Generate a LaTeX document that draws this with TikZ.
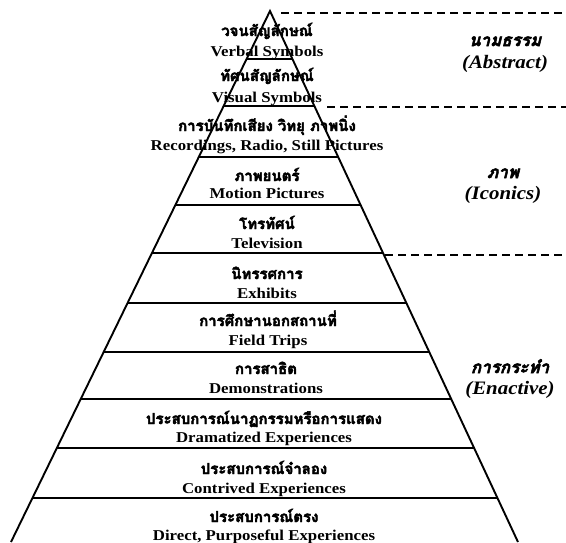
\documentclass[tikz,border=0pt]{standalone}
\usepackage{fontspec}
\setmainfont{Liberation Serif}
\newfontfamily\enfont{Liberation Serif Bold}
\newfontfamily\enslant{Liberation Serif Bold Italic}
\newfontfamily\thaifont[Script=Thai, BoldFeatures={FakeBold=3}]{Loma}
\newfontfamily\thaislant[Script=Thai, FakeSlant=0.25, BoldFeatures={FakeBold=3}]{Loma}
\usetikzlibrary{calc}
% widen a line of text horizontally
\newcommand\stretchtext[2][1.12]{\scalebox{#1}[1]{#2}}

\begin{document}
\begin{tikzpicture}[x=1pt,y=-1pt,
  edge/.style={line width=1.9pt, line join=miter},
  tier/.style={line width=1.7pt},
  divider/.style={line width=2.2pt, dash pattern=on 8pt off 5pt},
  en/.style={anchor=base, inner sep=0pt, text height=10pt, text depth=2pt,
    font=\enfont\fontsize{15}{18}\selectfont},
  th/.style={anchor=base, inner sep=0pt, text height=9pt, text depth=1pt,
    font=\thaifont\bfseries\fontsize{15}{18}\selectfont},
  moden/.style={anchor=base, inner sep=0pt, text height=10pt, text depth=3pt,
    font=\enslant\fontsize{19}{20}\selectfont},
  modth/.style={anchor=base, inner sep=0pt, text height=9pt, text depth=0pt,
    font=\thaislant\bfseries\fontsize{17}{20}\selectfont}
]
\useasboundingbox (0,0) rectangle (566,542);

% cone outline
\coordinate (apex) at (270,11);
\coordinate (bl) at (11,542);
\coordinate (br) at (518,542);
\draw[edge] (bl) -- (apex) -- (br);

% horizontal tiers
\foreach \yy [count=\i] in {59,106,157,205,253,303,352,399,448,498} {
  \coordinate (tl\i) at ($(apex)!{(\yy-11)/531}!(bl)$);
  \coordinate (tr\i) at ($(apex)!{(\yy-11)/531}!(br)$);
  \draw[tier] (tl\i) -- (tr\i);
}

% dashed group dividers
\coordinate (da1) at (281,13);  \coordinate (db1) at (566,13);
\coordinate (da2) at (327,107); \coordinate (db2) at (566,107);
\coordinate (da3) at (385,255); \coordinate (db3) at (566,255);
\draw[divider] (da1) -- (db1);
\draw[divider] (da2) -- (db2);
\draw[divider] (da3) -- (db3);

% tier labels
\node[th] (verbalTh) at (267,36)  {วจนสัญลักษณ์};
\node[en] (verbalEn) at (267,56)  {\stretchtext{Verbal Symbols}};
\node[th] (visualTh) at (267,81)  {ทัศนสัญลักษณ์};
\node[en] (visualEn) at (267,102) {\stretchtext{Visual Symbols}};
\node[th] (recTh)    at (267,131) {การบันทึกเสียง วิทยุ ภาพนิ่ง};
\node[en] (recEn)    at (267,150) {\stretchtext{Recordings, Radio, Still Pictures}};
\node[th] (motionTh) at (267,181) {ภาพยนตร์};
\node[en] (motionEn) at (267,198) {\stretchtext{Motion Pictures}};
\node[th] (tvTh)     at (267,229) {โทรทัศน์};
\node[en] (tvEn)     at (267,248) {\stretchtext{Television}};
\node[th] (exhTh)    at (267,279) {นิทรรศการ};
\node[en] (exhEn)    at (267,298) {\stretchtext{Exhibits}};
\node[th] (fieldTh)  at (268,326) {การศึกษานอกสถานที่};
\node[en] (fieldEn)  at (268,345) {\stretchtext{Field Trips}};
\node[th] (demoTh)   at (266,374) {การสาธิต};
\node[en] (demoEn)   at (266,393) {\stretchtext{Demonstrations}};
\node[th] (dramaTh)  at (264,424) {ประสบการณ์นาฏกรรมหรือการแสดง};
\node[en] (dramaEn)  at (264,442) {\stretchtext{Dramatized Experiences}};
\node[th] (contrTh)  at (264,474) {ประสบการณ์จำลอง};
\node[en] (contrEn)  at (264,493) {\stretchtext{Contrived Experiences}};
\node[th] (directTh) at (264,522) {ประสบการณ์ตรง};
\node[en] (directEn) at (264,540) {\stretchtext{Direct, Purposeful Experiences}};

% mode labels
\node[modth] (absTh) at (505,46)  {นามธรรม};
\node[moden] (absEn) at (505,68)  {\stretchtext[1.1]{(Abstract)}};
\node[modth] (iconTh) at (503,178) {ภาพ};
\node[moden] (iconEn) at (503,199) {\stretchtext[1.1]{(Iconics)}};
\node[modth] (enactTh) at (510,373) {การกระทำ};
\node[moden] (enactEn) at (510,394) {\stretchtext[1.1]{(Enactive)}};
\end{tikzpicture}
\end{document}
